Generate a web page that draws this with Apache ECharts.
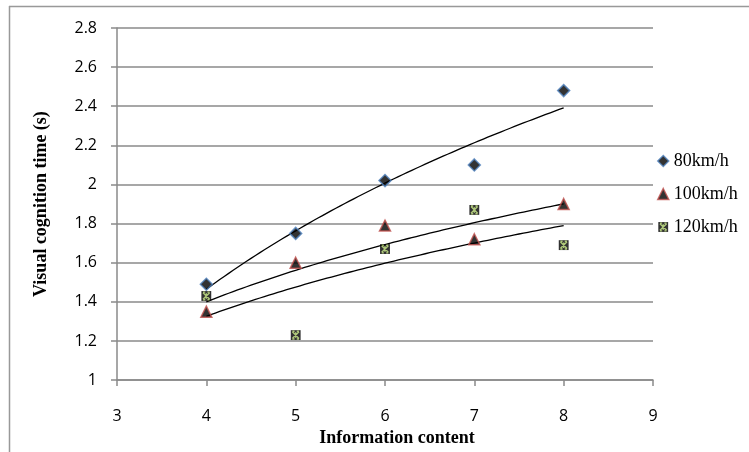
<!DOCTYPE html>
<html>
<head>
<meta charset="utf-8">
<script src="https://cdn.jsdelivr.net/npm/echarts@6/dist/echarts.min.js"></script>
<style>
html,body{margin:0;padding:0;background:#fff;}
#chart{width:749px;height:452px;}
</style>
</head>
<body>
<div id="chart"></div>
<script>
// ---- data ----
var infoContent = [4, 5, 6, 7, 8];
var seriesNames = ['80km/h', '100km/h', '120km/h'];
var v80  = [1.49, 1.75, 2.02, 2.10, 2.48];
var v100 = [1.35, 1.60, 1.79, 1.72, 1.90];
var v120 = [1.43, 1.23, 1.67, 1.87, 1.69];
var xTicks = [3, 4, 5, 6, 7, 8, 9];
var yTicks = [1, 1.2, 1.4, 1.6, 1.8, 2, 2.2, 2.4, 2.6, 2.8];

// logarithmic trendline (least squares y = a*ln(x) + b), computed from the data
function logFit(xs, ys) {
  var n = xs.length, lx = xs.map(Math.log);
  var mx = lx.reduce(function(s, v){return s + v;}, 0) / n;
  var my = ys.reduce(function(s, v){return s + v;}, 0) / n;
  var sxy = 0, sxx = 0;
  for (var i = 0; i < n; i++) { sxy += (lx[i] - mx) * (ys[i] - my); sxx += (lx[i] - mx) * (lx[i] - mx); }
  var a = sxy / sxx, b = my - a * mx;
  var pts = [], x0 = xs[0], x1 = xs[n - 1];
  for (var k = 0; k <= 80; k++) { var x = x0 + (x1 - x0) * k / 80; pts.push([x, a * Math.log(x) + b]); }
  return pts;
}
function pairs(ys) { return infoContent.map(function(x, i){ return [x, ys[i]]; }); }

var xSym = 'image://data:image/svg+xml;utf8,' + encodeURIComponent(
  '<svg xmlns="http://www.w3.org/2000/svg" width="20" height="20" viewBox="0 0 20 20">' +
  '<rect x="1" y="1" width="18" height="18" fill="#000"/>' +
  '<path d="M4 4 L16 16 M16 4 L4 16 M10 5 L10 15 M4 3 L8 3 M12 3 L16 3 M4 17 L8 17 M12 17 L16 17" stroke="#9BBB59" stroke-width="2.6" fill="none"/>' +
  '</svg>');

var grey = '#8a8a8a';
var chart = echarts.init(document.getElementById('chart'));
chart.setOption({
  animation: false,
  backgroundColor: '#fff',
  grid: { left: 117, right: 96, top: 28, bottom: 70 },
  xAxis: {
    type: 'value', min: 3, max: 9, interval: 1,
    name: 'Information content', nameLocation: 'middle', nameGap: 45,
    nameTextStyle: { fontFamily: 'Liberation Serif', fontWeight: 'bold', fontSize: 18, color: '#000', padding: [0, 0, 0, 24] },
    axisLine: { show: true, onZero: false, lineStyle: { color: grey, width: 1.5 } },
    axisTick: { show: true, length: 6, lineStyle: { color: grey, width: 1.5 } },
    axisLabel: { margin: 28, fontFamily: 'Open Sans', fontSize: 16, color: '#000' },
    splitLine: { show: false }
  },
  yAxis: {
    type: 'value', min: 1, max: 2.8, interval: 0.2,
    name: 'Visual cognition time (s)', nameLocation: 'middle', nameGap: 67, nameRotate: 90,
    nameTextStyle: { fontFamily: 'Liberation Serif', fontWeight: 'bold', fontSize: 18, color: '#000', padding: [0, 0, 0, 0] },
    axisLine: { show: true, onZero: false, lineStyle: { color: grey, width: 1.5 } },
    axisTick: { show: true, length: 6, lineStyle: { color: grey, width: 1.5 } },
    axisLabel: { margin: 20, fontFamily: 'Open Sans', fontSize: 16, color: '#000',
      formatter: function(v){ return String(parseFloat(v.toFixed(1))); } },
    splitLine: { show: true, lineStyle: { color: grey, width: 1.5 } }
  },
  legend: {
    orient: 'vertical', left: 652, top: 146, itemGap: 13,
    itemWidth: 11, itemHeight: 11,
    textStyle: { fontFamily: 'Liberation Serif', fontSize: 18, color: '#000', lineHeight: 20 },
    data: [
      { name: seriesNames[0], icon: 'diamond', itemStyle: { color: '#000', borderColor: '#4F81BD', borderWidth: 1.5 } },
      { name: seriesNames[1], icon: 'triangle', itemStyle: { color: '#000', borderColor: '#C0504D', borderWidth: 1.5 } },
      { name: seriesNames[2], icon: xSym }
    ]
  },
  graphic: [
    { type: 'line', shape: { x1: 9, y1: 6.5, x2: 749, y2: 6.5 }, style: { stroke: '#999', lineWidth: 1.5 }, silent: true },
    { type: 'line', shape: { x1: 9.5, y1: 6, x2: 9.5, y2: 452 }, style: { stroke: '#999', lineWidth: 1.5 }, silent: true }
  ],
  series: [
    { name: 'trend80', type: 'line', data: logFit(infoContent, v80), showSymbol: false,
      lineStyle: { color: '#000', width: 1.3 }, z: 2, silent: true },
    { name: 'trend100', type: 'line', data: logFit(infoContent, v100), showSymbol: false,
      lineStyle: { color: '#000', width: 1.3 }, z: 2, silent: true },
    { name: 'trend120', type: 'line', data: logFit(infoContent, v120), showSymbol: false,
      lineStyle: { color: '#000', width: 1.3 }, z: 2, silent: true },
    { name: seriesNames[0], type: 'scatter', data: pairs(v80), symbol: 'diamond', symbolSize: 12,
      itemStyle: { color: '#000', borderColor: '#4F81BD', borderWidth: 1.5 }, z: 3 },
    { name: seriesNames[1], type: 'scatter', data: pairs(v100), symbol: 'triangle', symbolSize: 11,
      itemStyle: { color: '#000', borderColor: '#C0504D', borderWidth: 1.5 }, z: 3 },
    { name: seriesNames[2], type: 'scatter', data: pairs(v120), symbol: xSym, symbolSize: 11, z: 3 }
  ]
});
</script>
</body>
</html>
